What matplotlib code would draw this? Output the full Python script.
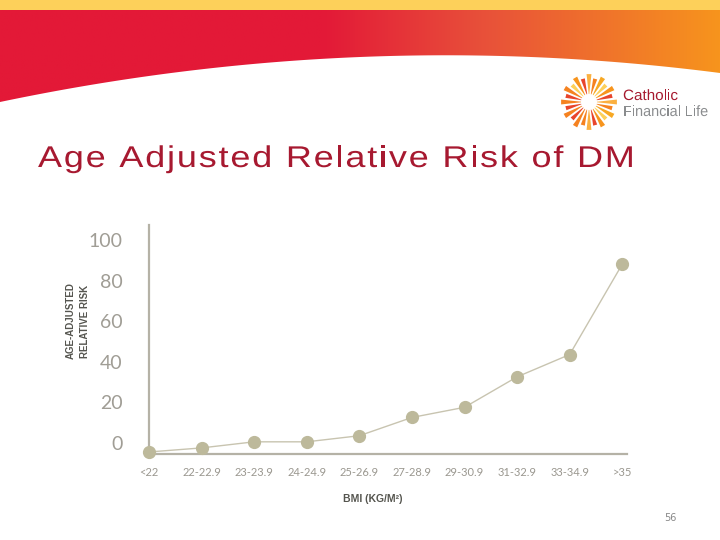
import numpy as np
import matplotlib.pyplot as plt
from matplotlib.patches import Polygon, Rectangle, PathPatch
from matplotlib.colors import LinearSegmentedColormap
from matplotlib.transforms import ScaledTranslation, Affine2D
from matplotlib.textpath import TextPath
from matplotlib.font_manager import FontProperties, findfont, get_font

# data
bmi_groups = ['<22', '22-22.9', '23-23.9', '24-24.9', '25-26.9',
              '27-28.9', '29-30.9', '31-32.9', '33-34.9', '>35']
relative_risk = [1, 3, 6, 6, 9, 18, 23, 38, 49, 93.5]
y_ticks = [0, 20, 40, 60, 80, 100]


def wide_text(ax, x, y, s, size_px, width_px, color, sx=None, family='Liberation Sans'):
    # glyphs stretched (and a bit spread out) to fill the slide's width
    prop = FontProperties(family=family)
    font = get_font(findfont(prop))
    font.set_size(size_px, 72)
    advs = [font.load_char(ord(c)).linearHoriAdvance / 65536 for c in s]
    full = sum(advs[:-1]) + font.load_char(ord(s[-1])).width / 64
    if sx is None:
        sx = width_px / full
    track = (width_px - sx * full) / (len(s) - 1)
    gx = x
    for ch, a in zip(s, advs):
        if ch != ' ':
            tp = TextPath((0, 0), ch, size=size_px, prop=prop)
            tr = Affine2D().scale(sx, -1).translate(gx, y)
            ax.add_patch(PathPatch(tr.transform_path(tp), facecolor=color, lw=0, zorder=5))
        gx += sx * a + track


fig = plt.figure(figsize=(7.2, 5.4), dpi=100)

# slide background (pixel coordinates)
bg = fig.add_axes([0, 0, 1, 1])
bg.set_xlim(0, 720)
bg.set_ylim(540, 0)
bg.axis('off')

bg.add_patch(Rectangle((0, 0), 720, 10, color='#fdd05a', lw=0))

xs = np.linspace(0, 720, 200)
curve = 2.353e-4 * xs**2 - 0.2097 * xs + 102
band = Polygon(np.column_stack([np.r_[xs, 720, 0], np.r_[curve, 10, 10]]),
               closed=True, facecolor='none', edgecolor='none')
bg.add_patch(band)
cmap = LinearSegmentedColormap.from_list(
    'band', [(0, '#e31937'), (0.45, '#e31937'), (0.67, '#e8503a'), (1, '#f7941d')])
grad = bg.imshow(np.linspace(0, 1, 256)[None, :], cmap=cmap, aspect='auto',
                 extent=(0, 720, 110, 10), zorder=1)
grad.set_clip_path(band)

# logo sunburst
cx, cy = 589, 102
ray_colors = ['#fbb040', '#f58220', '#f7a823', '#fdd05a', '#f7941d', '#e8452c']
for i, ang in enumerate(np.arange(0, 360, 15)):
    r_in = 8
    r_out = 28 if i % 2 == 0 else 24
    a_in0, a_in1 = np.radians(ang - 2), np.radians(ang + 2)
    a_out0, a_out1 = np.radians(ang - 5), np.radians(ang + 5)
    pts = [(cx + r_in * np.cos(a_in0), cy + r_in * np.sin(a_in0)),
           (cx + r_out * np.cos(a_out0), cy + r_out * np.sin(a_out0)),
           (cx + r_out * np.cos(a_out1), cy + r_out * np.sin(a_out1)),
           (cx + r_in * np.cos(a_in1), cy + r_in * np.sin(a_in1))]
    col = ray_colors[i % len(ray_colors)]
    if 120 <= ang <= 210:
        col = '#e8452c' if i % 2 else '#f58220'
    bg.add_patch(Polygon(pts, closed=True, color=col, lw=0))
wide_text(bg, 623, 100, 'Catholic', 15, 54, '#a6192e')
wide_text(bg, 623, 116, 'Financial Life', 15, 84, '#8a8c8e')

wide_text(bg, 38, 167, 'Age Adjusted Relative Risk of DM', 30, 591, '#a71930', sx=1.2)
bg.text(670, 518, '56', color='#888888', fontsize=7, va='center', ha='center')

# chart
ax = fig.add_axes([149 / 720, 1 - 454 / 540, 478 / 720, 229 / 540])
ax.patch.set_alpha(0)
x = np.arange(len(bmi_groups))
ax.plot(x, relative_risk, color='#c8c4b0', lw=1, marker='o', markersize=8.5,
        markerfacecolor='#bdb99b', markeredgecolor='#bdb99b', clip_on=False, zorder=3)

ax.set_xlim(0, 9.09)
ax.set_ylim(0, 112.8)
for side in ['top', 'right']:
    ax.spines[side].set_visible(False)
for side in ['left', 'bottom']:
    ax.spines[side].set_color('#b5b2a6')
    ax.spines[side].set_linewidth(1.6)

ax.set_xticks(x)
ax.set_xticklabels(bmi_groups, family='Lato', fontsize=8, color='#9a978f')
ax.set_yticks(y_ticks)
ax.set_yticklabels([str(v) for v in y_ticks], family='Lato', fontsize=14, color='#a09d95')
ax.tick_params(axis='both', length=0)
ax.tick_params(axis='x', pad=9)
ax.tick_params(axis='y', pad=19)
shift = ScaledTranslation(0, 11 / 100, fig.dpi_scale_trans)
for lab in ax.get_yticklabels():
    lab.set_transform(lab.get_transform() + shift)

bg.text(78, 321, 'AGE-ADJUSTED\nRELATIVE RISK', rotation=90, fontsize=7,
        fontweight='bold', color='#55554f', ha='center', va='center',
        family='Liberation Sans', linespacing=1.5)
bg.text(373, 499, 'BMI (KG/M²)', fontsize=7.5, fontweight='bold', color='#55554f',
        ha='center', va='center', family='Liberation Sans')

plt.savefig('out.png', dpi=100)
